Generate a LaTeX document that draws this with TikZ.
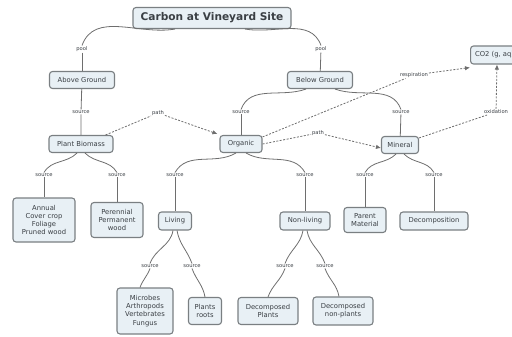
\documentclass[tikz,border=0pt]{standalone}
\usepackage{fontspec}
\setmainfont{DejaVu Sans}
\usetikzlibrary{arrows.meta}
\definecolor{boxfill}{HTML}{E8F0F5}
\definecolor{boxline}{HTML}{7A7F82}
\definecolor{txt}{HTML}{3A3F44}
\definecolor{conn}{HTML}{6E6E6E}
\tikzset{
  concept/.style={draw=boxline, fill=boxfill, line width=1.1pt, rounded corners=3pt,
    align=center, text=txt, font=\fontsize{6.8}{8.2}\selectfont, inner sep=1pt},
  lab/.style={fill=white, text=txt, font=\fontsize{5.2}{6}\selectfont, inner sep=0.8pt},
  link/.style={draw=conn, line width=0.8pt},
  dlink/.style={draw=conn, line width=0.8pt, dash pattern=on 2pt off 1.5pt},
  arr/.style={-{Latex[length=5pt,width=4.5pt]}}
}
\begin{document}
\begin{tikzpicture}[x=1pt,y=-1pt]
\useasboundingbox (0,0) rectangle (512,337);
\clip (0,0) rectangle (512,337);
% concept nodes
\node[concept, minimum width=158, minimum height=21, font=\bfseries\fontsize{10.6}{12}\selectfont] (title) at (212,18) {Carbon at Vineyard Site};
\node[concept, minimum width=65, minimum height=17] (above) at (82,80) {Above Ground};
\node[concept, minimum width=65, minimum height=17] (below) at (320,80) {Below Ground};
\node[concept, minimum height=18, inner xsep=4.5pt, anchor=west] (co2) at (470,55) {CO2 (g, aq)};
\node[concept, minimum width=64, minimum height=17] (biomass) at (81,144) {Plant Biomass};
\node[concept, minimum width=42, minimum height=17] (organic) at (241,144) {Organic};
\node[concept, minimum width=37, minimum height=17] (mineral) at (400,145) {Mineral};
\node[concept, minimum width=62, minimum height=44] (annual) at (44,220) {Annual\\Cover crop\\Foliage\\Pruned wood};
\node[concept, minimum width=52, minimum height=35] (perennial) at (117,220) {Perennial\\Permanent\\wood};
\node[concept, minimum width=33, minimum height=18] (living) at (175,221) {Living};
\node[concept, minimum width=50, minimum height=18] (nonliving) at (305,221) {Non-living};
\node[concept, minimum width=42, minimum height=25] (parent) at (365,220) {Parent\\Material};
\node[concept, minimum width=68, minimum height=18] (decomp) at (434,221) {Decomposition};
\node[concept, minimum width=56, minimum height=46] (microbes) at (145,311) {Microbes\\Arthropods\\Vertebrates\\Fungus};
\node[concept, minimum width=33, minimum height=27] (plants) at (205,311) {Plants\\roots};
\node[concept, minimum width=60, minimum height=27] (decplants) at (268,311) {Decomposed\\Plants};
\node[concept, minimum width=60, minimum height=28] (decnon) at (343,311) {Decomposed\\non-plants};
% link labels
\node[lab] (pool1) at (82,49) {pool};
\node[lab] (pool2) at (321,49) {pool};
\node[lab] (src1) at (81,112) {source};
\node[lab] (src2) at (241,112) {source};
\node[lab] (src3) at (401,112) {source};
\node[lab] (path1) at (158,113) {path};
\node[lab] (resp) at (414,75) {respiration};
\node[lab] (path2) at (318,133) {path};
\node[lab] (oxid) at (496,112) {oxidation};
\node[lab] (s4) at (44,175) {source};
\node[lab] (s5) at (117,175) {source};
\node[lab] (s6) at (175,175) {source};
\node[lab] (s7) at (305,175) {source};
\node[lab] (s8) at (365,175) {source};
\node[lab] (s9) at (434,175) {source};
\node[lab] (s10) at (150,266) {source};
\node[lab] (s11) at (192,266) {source};
\node[lab] (s12) at (285,266) {source};
\node[lab] (s13) at (325,266) {source};
% solid links
\draw[link] ([xshift=-37pt]title.south) to[out=190,in=70] (pool1.north);
\draw[link] ([xshift=33pt]title.south) to[out=-10,in=110] (pool2.north);
\draw[link] (pool1) -- (above);
\draw[link] (pool2) -- (below);
\draw[link] (above) -- (src1) -- (biomass);
\draw[link] ([xshift=-14pt]below.south) to[out=200,in=70] (src2.north);
\draw[link] ([xshift=15pt]below.south) to[out=-20,in=110] (src3.north);
\draw[link] (src2) -- (organic);
\draw[link] (src3) -- (mineral);
\draw[link] ([xshift=-4pt]biomass.south) to[out=-135,in=60] (s4.north);
\draw[link] ([xshift=4pt]biomass.south) to[out=-45,in=120] (s5.north);
\draw[link] ([xshift=-5pt]organic.south) to[out=-150,in=60] (s6.north);
\draw[link] ([xshift=5pt]organic.south) to[out=-30,in=120] (s7.north);
\draw[link] ([xshift=-4pt]mineral.south) to[out=-135,in=60] (s8.north);
\draw[link] ([xshift=4pt]mineral.south) to[out=-45,in=120] (s9.north);
\draw[link] (s4) -- (annual);
\draw[link] (s5) -- (perennial);
\draw[link] (s6) -- (living);
\draw[link] (s7) -- (nonliving);
\draw[link] (s8) -- (parent);
\draw[link] (s9) -- (decomp);
\draw[link] ([xshift=-2pt]living.south) to[out=-100,in=70] (s10.north);
\draw[link] ([xshift=2pt]living.south) to[out=-80,in=110] (s11.north);
\draw[link] (s10.south) to[out=-110,in=70] ([xshift=-5pt]microbes.north);
\draw[link] (s11.south) to[out=-70,in=100] (plants.north);
\draw[link] ([xshift=-2pt]nonliving.south) to[out=-100,in=70] (s12.north);
\draw[link] ([xshift=2pt]nonliving.south) to[out=-80,in=110] (s13.north);
\draw[link] (s12.south) to[out=-110,in=70] (decplants.north);
\draw[link] (s13.south) to[out=-70,in=100] ([xshift=-4pt]decnon.north);
% dashed links
\draw[dlink] ([xshift=-8pt]biomass.north east) -- (path1);
\draw[dlink, arr] (path1) -- ([xshift=-2pt,yshift=1pt]organic.north west);
\draw[dlink] ([yshift=-2pt]organic.north east) -- (resp);
\draw[dlink, arr] (resp) -- ([yshift=-3pt]co2.south west);
\draw[dlink] (organic.east) -- (path2);
\draw[dlink, arr] (path2) -- ([yshift=-3pt]mineral.west);
\draw[dlink] ([yshift=-2pt]mineral.north east) -- (oxid);
\draw[dlink, arr] (oxid) -- ([xshift=27pt]co2.south west);
\end{tikzpicture}
\end{document}
